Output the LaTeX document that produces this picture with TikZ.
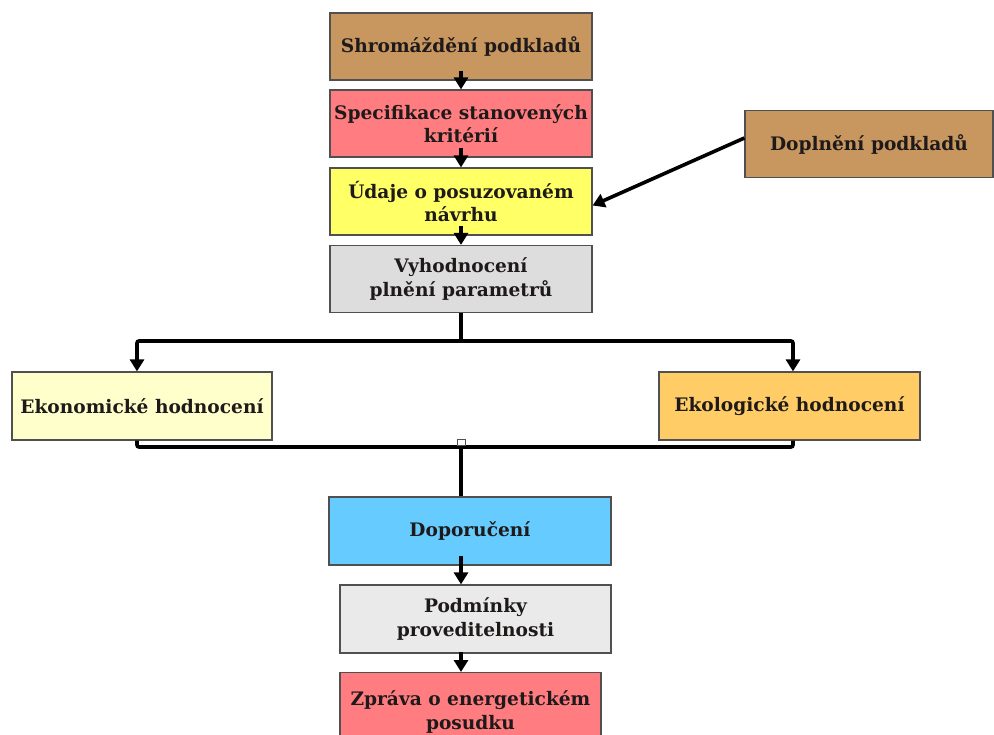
\documentclass[tikz,border=0pt]{standalone}
\usepackage{fontspec}
\setmainfont{DejaVu Serif}
\usetikzlibrary{arrows.meta}
\definecolor{cbrown}{HTML}{C8965F}
\definecolor{cpink}{HTML}{FF7C80}
\definecolor{cyel}{HTML}{FFFF66}
\definecolor{cgray}{HTML}{DEDDDE}
\definecolor{clgray}{HTML}{EAEAEA}
\definecolor{ccream}{HTML}{FFFFCC}
\definecolor{corange}{HTML}{FFCC66}
\definecolor{cblue}{HTML}{66CCFF}
\definecolor{ctext}{HTML}{1E1A1A}
\definecolor{cborder}{HTML}{505050}
\tikzset{
  box/.style={draw=cborder, line width=1.2pt, minimum width=262pt, minimum height=67pt,
    inner sep=0pt, align=center, text=ctext,
    font=\fontsize{18.6}{23.5}\selectfont\bfseries},
  conn/.style={line width=3.6pt, draw=black, rounded corners=2pt},
  arr/.style={conn, -{Triangle[width=14pt,length=12pt]}},
}
\begin{document}
\begin{tikzpicture}[x=1pt,y=-1pt]
\useasboundingbox (0,0) rectangle (994,735);
\node[box, fill=cbrown] (s1) at (461,46.5) {Shromáždění podkladů};
\node[box, fill=cpink] (s2) at (461,123.5) {Specifikace stanovených\\kritérií};
\node[box, fill=cyel] (s3) at (461,201.5) {Údaje o posuzovaném\\návrhu};
\node[box, fill=cgray] (s4) at (461,279) {Vyhodnocení\\plnění parametrů};
\node[box, fill=cbrown, minimum width=248pt] (dop) at (869,144) {Doplnění podkladů};
\node[box, fill=ccream, minimum width=260pt, minimum height=68pt] (eko) at (142,406) {Ekonomické hodnocení};
\node[box, fill=corange, minimum width=261pt, minimum height=68pt] (ekol) at (789.5,406) {Ekologické hodnocení};
\node[box, fill=cblue, minimum width=282pt, minimum height=68pt] (dpr) at (470,531) {Doporučení};
\node[box, fill=clgray, minimum width=271pt, minimum height=68pt] (pod) at (475.5,619) {Podmínky\\proveditelnosti};
\node[box, fill=cpink, minimum width=261pt, minimum height=80pt, anchor=north] (zpr) at (470.5,672) {\raisebox{18pt}{\begin{tabular}{@{}c@{}}Zpráva o energetickém\\[0pt]posudku\end{tabular}}};
\coordinate (jt) at (461,341);
\coordinate (jb) at (461,447);
\draw[arr] ([yshift=10pt]s1.south) -- (s2.north);
\draw[arr] ([yshift=10pt]s2.south) -- (s3.north);
\draw[arr] ([yshift=10pt]s3.south) -- (s4.north);
\draw[arr] ([yshift=6pt]dop.west) -- ([yshift=-4pt]s3.east);
\draw[conn] (s4.south) -- (jt);
\draw[arr] (jt) -| ([xshift=-5pt]eko.north);
\draw[arr] (jt) -| ([xshift=3.5pt]ekol.north);
\draw[conn] ([xshift=-5pt]eko.south) |- (jb) -| ([xshift=3.5pt]ekol.south);
\draw[conn] (jb) -- (dpr.north -| jb);
\draw[arr] ([yshift=10pt]dpr.south -| jb) -- (pod.north -| jb);
\draw[arr] ([yshift=2pt]pod.south -| jb) -- (zpr.north -| jb);
\node[draw=cborder, fill=white, line width=0.8pt, minimum width=8pt, minimum height=6pt, inner sep=0pt] (mk) at (461,442) {};
\end{tikzpicture}
\end{document}
